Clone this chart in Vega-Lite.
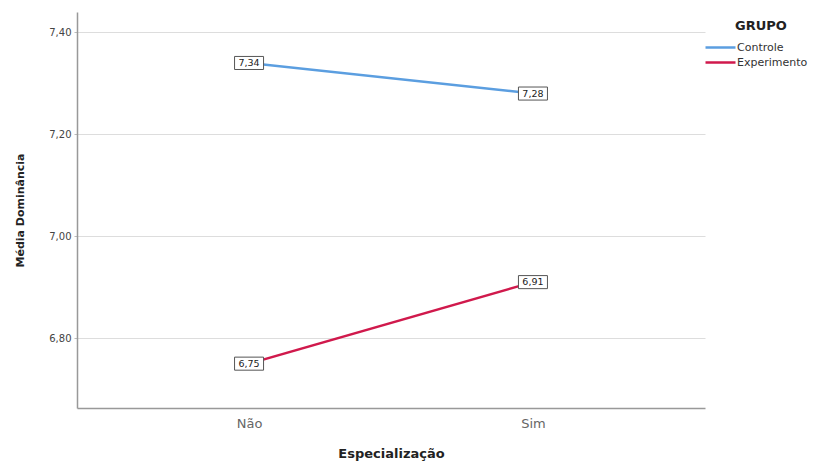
{
  "$schema": "https://vega.github.io/schema/vega-lite/v6.json",
  "autosize": {"type": "none"},
  "width": 628,
  "height": 396,
  "padding": {"left": 77, "top": 12, "right": 109, "bottom": 56},
  "background": "white",
  "config": {
    "font": "DejaVu Sans",
    "view": {"stroke": null},
    "locale": {"number": {"decimal": ",", "thousands": ".", "grouping": [3], "currency": ["", ""]}}
  },
  "data": {
    "values": [
      {"Especializacao": "Não", "GRUPO": "Controle", "Media": 7.34},
      {"Especializacao": "Sim", "GRUPO": "Controle", "Media": 7.28},
      {"Especializacao": "Não", "GRUPO": "Experimento", "Media": 6.75},
      {"Especializacao": "Sim", "GRUPO": "Experimento", "Media": 6.91}
    ]
  },
  "encoding": {
    "x": {
      "field": "Especializacao",
      "type": "nominal",
      "sort": ["Não", "Sim"],
      "scale": {"type": "point", "padding": 0.606},
      "axis": {
        "title": "Especialização",
        "titleFontSize": 13,
        "titleFontWeight": "bold",
        "titleColor": "#222",
        "titleY": 45,
        "titleBaseline": "middle",
        "labelAngle": 0,
        "labelFontSize": 13,
        "labelColor": "#666",
        "labelPadding": 9,
        "ticks": false,
        "domainColor": "#999",
        "domainWidth": 1.5,
        "grid": false
      }
    },
    "y": {
      "field": "Media",
      "type": "quantitative",
      "scale": {"domain": [6.663, 7.44], "nice": false, "zero": false},
      "axis": {
        "title": "Média Dominância",
        "titleFontSize": 11,
        "titleFontWeight": "bold",
        "titleColor": "#222",
        "titleX": -57,
        "titleY": 198,
        "titleBaseline": "middle",
        "values": [6.8, 7.0, 7.2, 7.4],
        "format": ".2f",
        "labelFontSize": 10,
        "labelColor": "#444",
        "labelPadding": 3,
        "tickSize": 3,
        "tickColor": "#bbb",
        "domainColor": "#999",
        "domainWidth": 1.5,
        "grid": true,
        "gridColor": "#ddd",
        "gridWidth": 1
      }
    }
  },
  "layer": [
    {
      "mark": {"type": "line", "strokeWidth": 2.5},
      "encoding": {
        "color": {
          "field": "GRUPO",
          "type": "nominal",
          "scale": {"domain": ["Controle", "Experimento"], "range": ["#5b9ee0", "#d0194c"]},
          "legend": {
            "orient": "none",
            "legendX": 637,
            "legendY": 8,
            "title": "GRUPO",
            "titleFontSize": 13,
            "titleFontWeight": "bold",
            "titleColor": "#222",
            "titleAnchor": "middle",
            "titlePadding": 8,
            "symbolType": "M-3,0H3",
            "symbolStrokeWidth": 2.5,
            "symbolSize": 100,
            "labelFontSize": 11,
            "labelColor": "#333",
            "labelOffset": 10,
            "rowPadding": 3
          }
        }
      }
    },
    {
      "mark": {"type": "point", "shape": "M-1,-0.45H1V0.45H-1Z", "size": 841, "filled": true, "fill": "white", "stroke": "#555", "strokeWidth": 1, "opacity": 1}
    },
    {
      "mark": {"type": "text", "fontSize": 9.5, "color": "#222"},
      "encoding": {"text": {"field": "Media", "type": "quantitative", "format": ".2f"}}
    }
  ]
}
